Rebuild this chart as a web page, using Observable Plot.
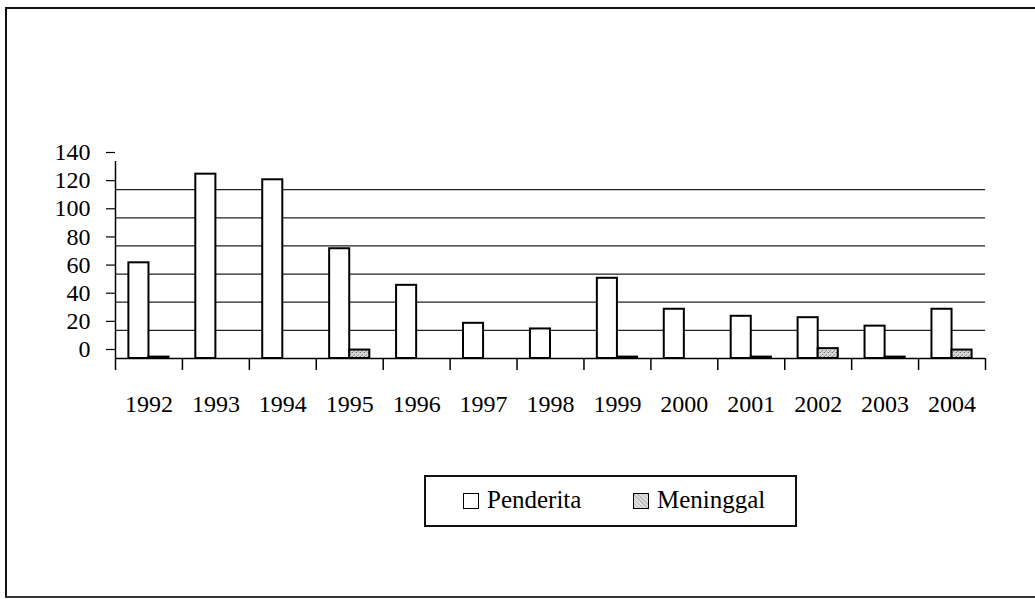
<!DOCTYPE html>
<html>
<head>
<meta charset="utf-8">
<script src="https://cdn.jsdelivr.net/npm/d3@7"></script>
<script src="https://cdn.jsdelivr.net/npm/@observablehq/plot@0.6"></script>
<style>
  html, body { margin: 0; padding: 0; background: #fff; overflow: hidden; }
  #page { position: relative; width: 1035px; height: 599px; overflow: hidden; background: #fff; font-family: "Liberation Serif", "Times New Roman", serif; }
  #chart { position: absolute; left: 0; top: 0; }
  #chart svg, #chart svg text, #chart svg g { font-family: "Liberation Serif", "Times New Roman", serif !important; }
  #chart svg g[aria-label="y-axis tick label"], #chart svg g[aria-label="x-axis tick label"] { font-size: 24px !important; }
  .edge { position: absolute; pointer-events: none; }
  #legend { position: absolute; left: 424px; top: 475px; width: 369px; height: 48px; border: 2px solid #111; display: block; }
  .item { position: absolute; top: 9px; font-size: 25px; line-height: 28px; color: #000; white-space: nowrap; }
  .sw { display: inline-block; width: 14px; height: 14px; border: 1.5px solid #000; vertical-align: -1px; margin-right: 8px; }
</style>
</head>
<body>
<div id="page">
  <div id="chart"></div>
  <div id="legend"></div>
  <div class="edge" style="left:5px;top:7px;width:2px;height:591px;background:#111"></div>
  <div class="edge" style="left:5px;top:7px;width:1030px;height:2px;background:#111"></div>
  <div class="edge" style="left:5px;top:596px;width:1030px;height:2px;background:#333"></div>
</div>
<script>
// ---- data ----
const years = ["1992","1993","1994","1995","1996","1997","1998","1999","2000","2001","2002","2003","2004"];
const penderita = [68, 131, 127, 78, 52, 25, 21, 57, 35, 30, 29, 23, 35];
const meninggal = [1, 0, 0, 6, 0, 0, 0, 1, 0, 1, 7, 1, 6];
const yTicks = [0, 20, 40, 60, 80, 100, 120, 140];
const gridValues = [20, 40, 60, 80, 100, 120];
const seriesNames = ["Penderita", "Meninggal"];

const rows = years.map((yr, i) => ({i, year: yr, penderita: penderita[i], meninggal: meninggal[i]}));

const chart = Plot.plot({
  width: 1035,
  height: 440,
  marginLeft: 115,
  marginRight: 50,
  marginTop: 161,
  marginBottom: 82,
  style: {background: "transparent", fontFamily: "'Liberation Serif', serif", color: "#000"},
  x: {type: "linear", domain: [0, years.length]},
  y: {domain: [0, 140]},
  marks: [
    Plot.ruleY(gridValues, {stroke: "#222", strokeWidth: 1.2}),
    Plot.rectY(rows, {x1: d => d.i + 0.2, x2: d => d.i + 0.5, y: "penderita", fill: "white", stroke: "#000", strokeWidth: 2}),
    Plot.rectY(rows.filter(d => d.meninggal > 0), {x1: d => d.i + 0.5, x2: d => d.i + 0.8, y: "meninggal", fill: "url(#stip)", stroke: "#000", strokeWidth: 2}),
    Plot.ruleY([0], {stroke: "#000", strokeWidth: 1.5}),
    Plot.ruleX([0], {y1: 0, y2: 140, stroke: "#000", strokeWidth: 1.5}),
    Plot.axisY({ticks: yTicks, tickSize: 9, tickPadding: 16, dy: -9, fontSize: 24, label: null, stroke: "#000", strokeWidth: 1.2, tickFormat: d => String(d)}),
    Plot.axisX({ticks: d3.range(years.length + 1), tickSize: 12, tickFormat: () => "", label: null, stroke: "#000", strokeWidth: 1.5}),
    Plot.axisX({ticks: years.map((_, i) => i + 0.5), tickSize: 0, tickPadding: 36, fontSize: 24, label: null, tickFormat: v => years[Math.floor(v)]})
  ]
});

// stipple pattern for "Meninggal"
const ns = "http://www.w3.org/2000/svg";
const defs = document.createElementNS(ns, "defs");
defs.innerHTML = `<pattern id="stip" width="4" height="4" patternUnits="userSpaceOnUse">
  <rect width="4" height="4" fill="#d8d8d8"/>
  <rect x="0" y="0" width="1" height="1" fill="#777"/>
  <rect x="2" y="2" width="1" height="1" fill="#888"/>
  <rect x="3" y="0" width="1" height="1" fill="#aaa"/>
  <rect x="1" y="3" width="1" height="1" fill="#999"/>
</pattern>`;
chart.insertBefore(defs, chart.firstChild);
chart.querySelectorAll("text").forEach(t => { t.style.fontFamily = "'Liberation Serif', serif"; });
document.getElementById("chart").appendChild(chart);

// legend
const legend = document.getElementById("legend");
const fills = ["#fff", "repeating-linear-gradient(45deg,#bbb 0 1px,#e0e0e0 1px 3px)"];
const lefts = [37, 207];
seriesNames.forEach((name, k) => {
  const it = document.createElement("div");
  it.className = "item";
  it.style.left = lefts[k] + "px";
  const sw = document.createElement("span");
  sw.className = "sw";
  sw.style.background = fills[k];
  it.appendChild(sw);
  it.appendChild(document.createTextNode(name));
  legend.appendChild(it);
});
</script>
</body>
</html>
